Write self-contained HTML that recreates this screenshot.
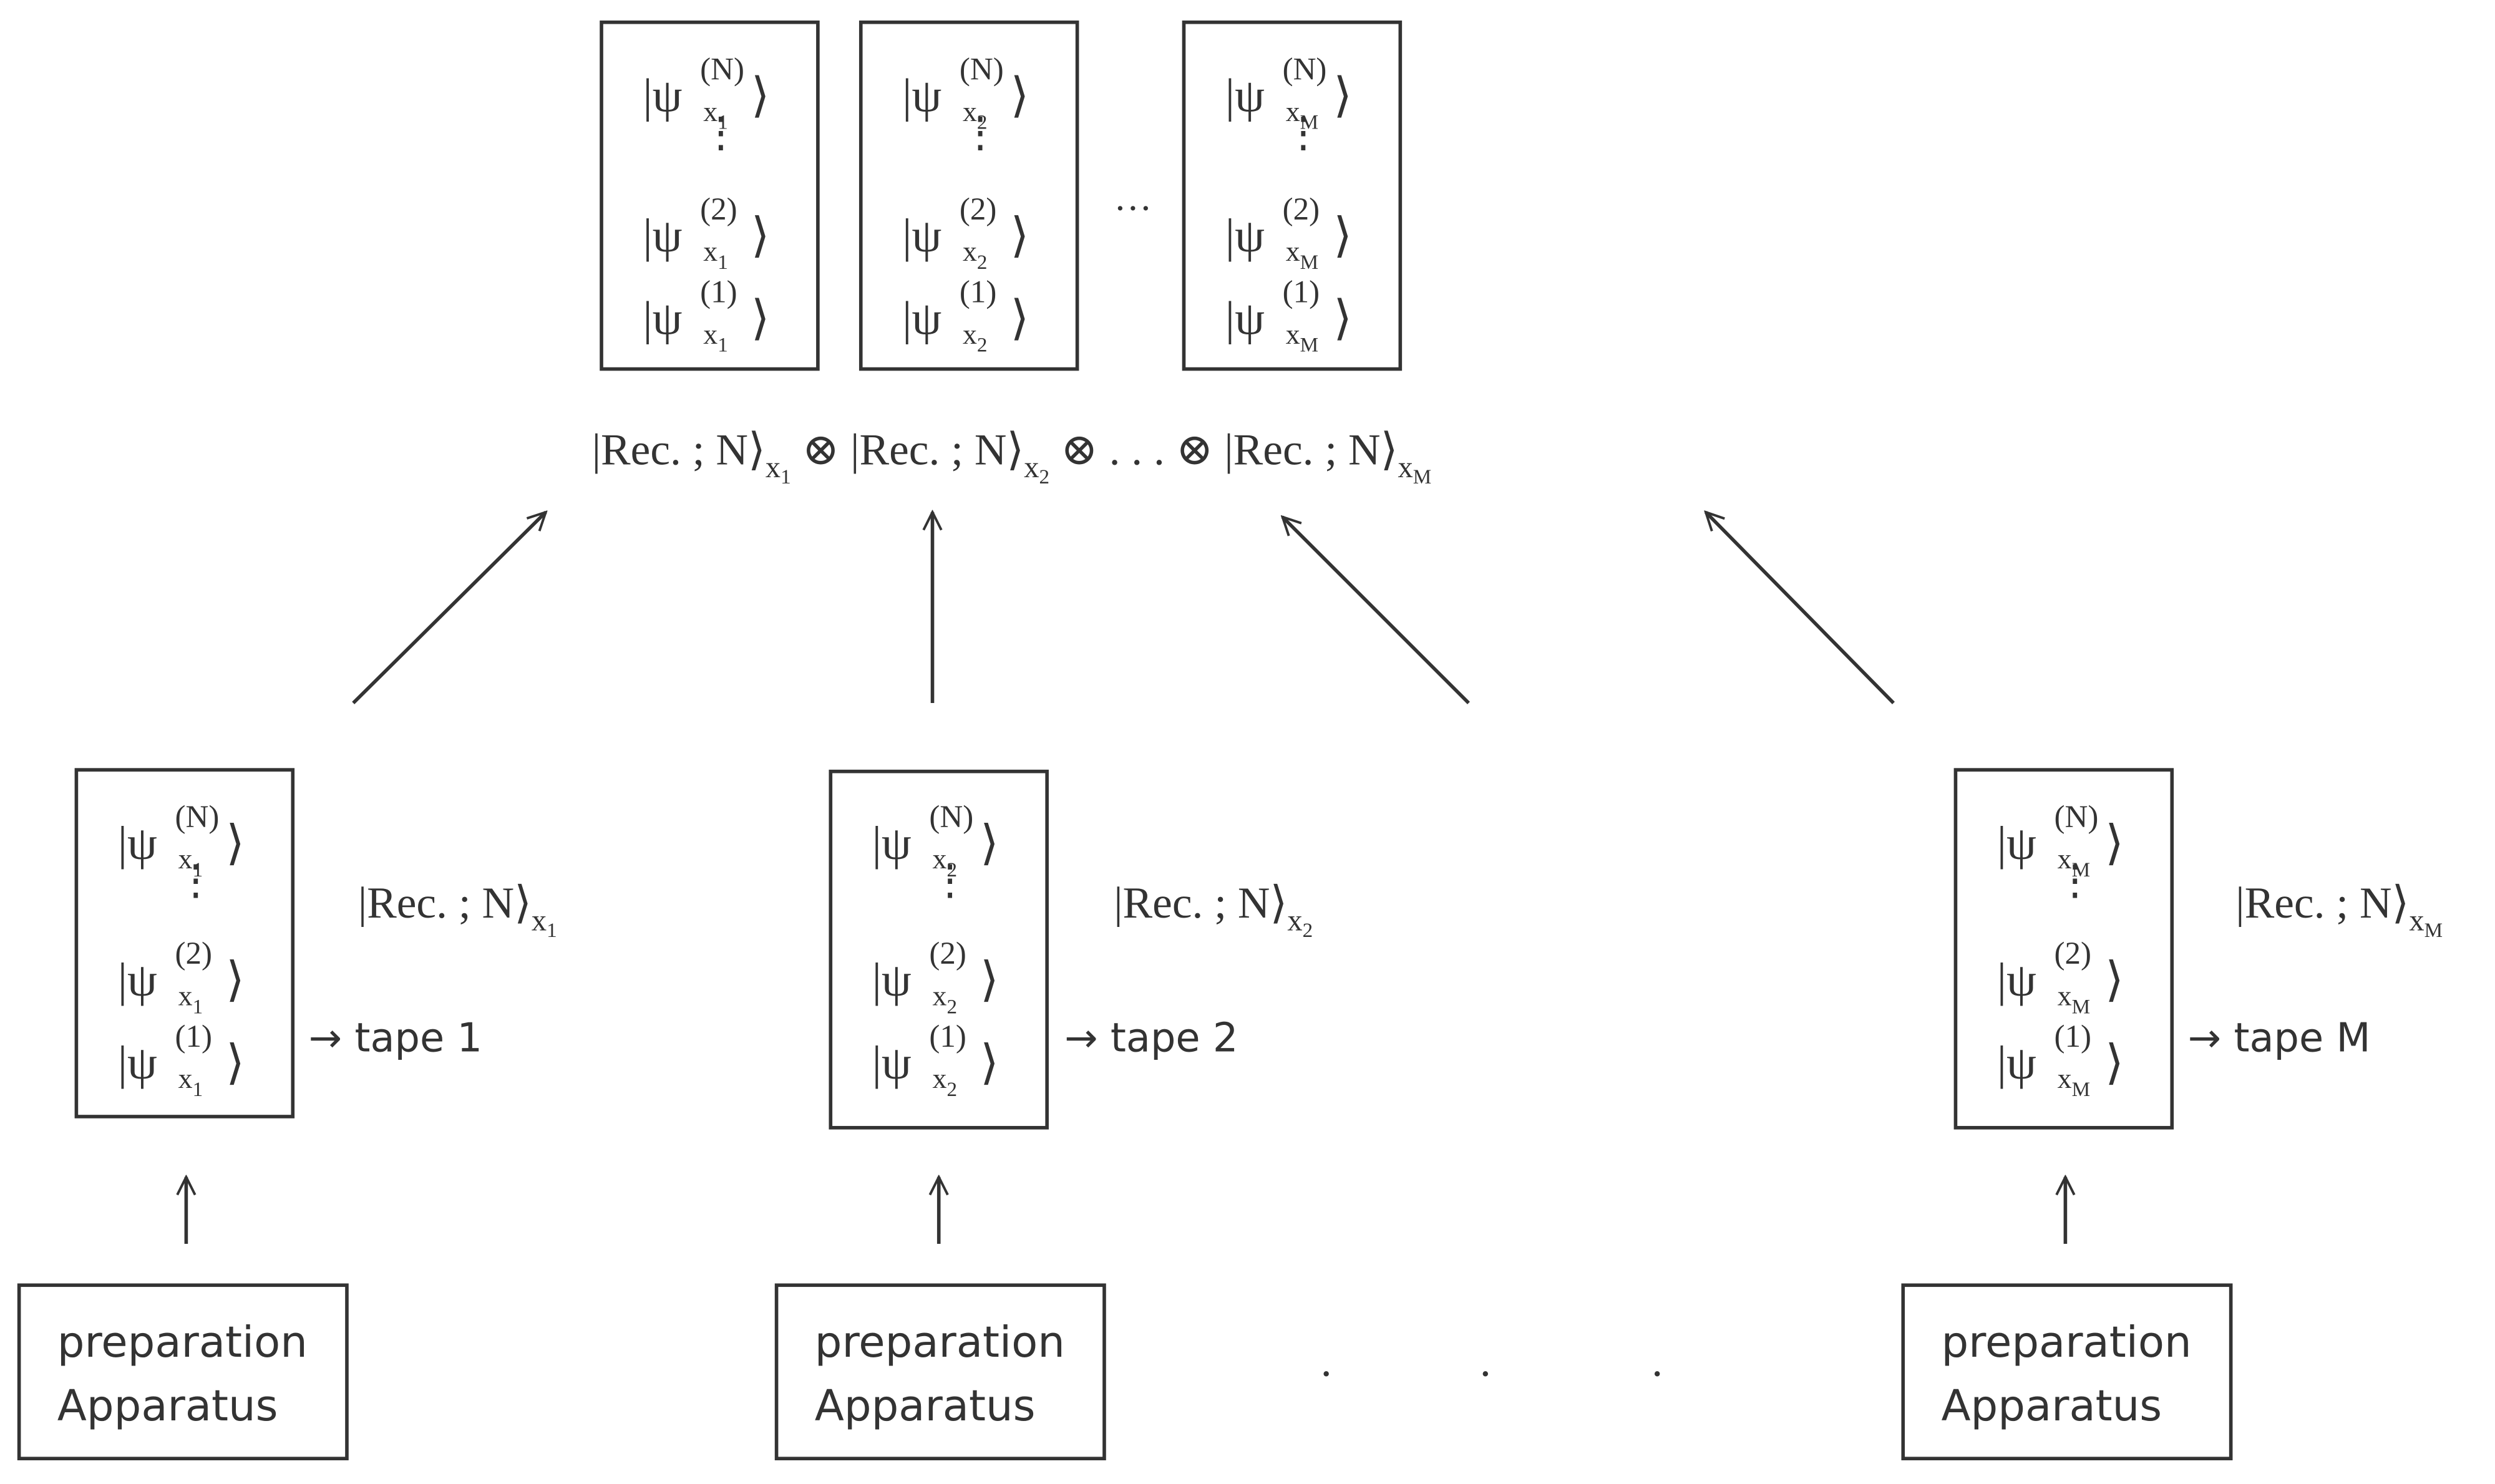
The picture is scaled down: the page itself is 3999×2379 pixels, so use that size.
<!DOCTYPE html>
<html><head><meta charset="utf-8"><style>
html,body{margin:0;padding:0;background:#fff;}
svg{display:block;}
text{fill:#333;font-family:"Liberation Serif","DejaVu Serif",serif;}
.s{font-family:"DejaVu Sans","Liberation Sans",sans-serif;}
</style></head><body>
<svg width="3999" height="2379" viewBox="0 0 1568 933" preserveAspectRatio="none" xmlns="http://www.w3.org/2000/svg">
<defs>
<marker id="ah" viewBox="0 0 20 20" refX="18" refY="10" markerWidth="14" markerHeight="14" markerUnits="userSpaceOnUse" orient="auto">
<path d="M2,2 L18,10 L2,18" fill="none" stroke="#333" stroke-width="2.2"/>
</marker>
<g id="k"><text x="0" y="0" font-size="30">|ψ</text><text x="68" y="0" font-size="30">⟩</text></g>
</defs>
<g fill="none" stroke="#333" stroke-width="2.2">
<rect x="378" y="14" width="136" height="218"/>
<rect x="541" y="14" width="136" height="218"/>
<rect x="744" y="14" width="136" height="218"/>
<rect x="48" y="484" width="136" height="218"/>
<rect x="522" y="485" width="136" height="224"/>
<rect x="1229" y="484" width="136" height="225"/>
<rect x="12" y="808" width="206" height="109"/>
<rect x="488" y="808" width="206" height="109"/>
<rect x="1196" y="808" width="206" height="109"/>
<line x1="222" y1="442" x2="343" y2="322" marker-end="url(#ah)"/>
<line x1="586" y1="442" x2="586" y2="322" marker-end="url(#ah)"/>
<line x1="923" y1="442" x2="806" y2="325" marker-end="url(#ah)"/>
<line x1="1190" y1="442" x2="1072" y2="322" marker-end="url(#ah)"/>
<line x1="117" y1="782" x2="117" y2="740" marker-end="url(#ah)"/>
<line x1="590" y1="782" x2="590" y2="740" marker-end="url(#ah)"/>
<line x1="1298" y1="782" x2="1298" y2="740" marker-end="url(#ah)"/>
</g>

<!-- ket macro expanded -->
<g id="kets">
<!-- top box 1 -->
<g transform="translate(404,70)"><use href="#k"/><text x="36" y="-20" font-size="20">(N)</text><text x="38" y="6" font-size="18">x<tspan font-size="13" dy="5">1</tspan></text></g>
<text x="440" y="92" font-size="26">⋮</text>
<g transform="translate(404,158)"><use href="#k"/><text x="36" y="-20" font-size="20">(2)</text><text x="38" y="6" font-size="18">x<tspan font-size="13" dy="5">1</tspan></text></g>
<g transform="translate(404,210)"><use href="#k"/><text x="36" y="-20" font-size="20">(1)</text><text x="38" y="6" font-size="18">x<tspan font-size="13" dy="5">1</tspan></text></g>
<!-- top box 2 -->
<g transform="translate(567,70)"><use href="#k"/><text x="36" y="-20" font-size="20">(N)</text><text x="38" y="6" font-size="18">x<tspan font-size="13" dy="5">2</tspan></text></g>
<text x="603" y="92" font-size="26">⋮</text>
<g transform="translate(567,158)"><use href="#k"/><text x="36" y="-20" font-size="20">(2)</text><text x="38" y="6" font-size="18">x<tspan font-size="13" dy="5">2</tspan></text></g>
<g transform="translate(567,210)"><use href="#k"/><text x="36" y="-20" font-size="20">(1)</text><text x="38" y="6" font-size="18">x<tspan font-size="13" dy="5">2</tspan></text></g>
<text x="700" y="132" font-size="24">…</text>
<!-- top box M -->
<g transform="translate(770,70)"><use href="#k"/><text x="36" y="-20" font-size="20">(N)</text><text x="38" y="6" font-size="18">x<tspan font-size="13" dy="5">M</tspan></text></g>
<text x="806" y="92" font-size="26">⋮</text>
<g transform="translate(770,158)"><use href="#k"/><text x="36" y="-20" font-size="20">(2)</text><text x="38" y="6" font-size="18">x<tspan font-size="13" dy="5">M</tspan></text></g>
<g transform="translate(770,210)"><use href="#k"/><text x="36" y="-20" font-size="20">(1)</text><text x="38" y="6" font-size="18">x<tspan font-size="13" dy="5">M</tspan></text></g>

<!-- bottom box 1 -->
<g transform="translate(74,540)"><use href="#k"/><text x="36" y="-20" font-size="20">(N)</text><text x="38" y="6" font-size="18">x<tspan font-size="13" dy="5">1</tspan></text></g>
<text x="110" y="562" font-size="26">⋮</text>
<g transform="translate(74,626)"><use href="#k"/><text x="36" y="-20" font-size="20">(2)</text><text x="38" y="6" font-size="18">x<tspan font-size="13" dy="5">1</tspan></text></g>
<g transform="translate(74,678)"><use href="#k"/><text x="36" y="-20" font-size="20">(1)</text><text x="38" y="6" font-size="18">x<tspan font-size="13" dy="5">1</tspan></text></g>
<!-- bottom box 2 -->
<g transform="translate(548,540)"><use href="#k"/><text x="36" y="-20" font-size="20">(N)</text><text x="38" y="6" font-size="18">x<tspan font-size="13" dy="5">2</tspan></text></g>
<text x="584" y="562" font-size="26">⋮</text>
<g transform="translate(548,626)"><use href="#k"/><text x="36" y="-20" font-size="20">(2)</text><text x="38" y="6" font-size="18">x<tspan font-size="13" dy="5">2</tspan></text></g>
<g transform="translate(548,678)"><use href="#k"/><text x="36" y="-20" font-size="20">(1)</text><text x="38" y="6" font-size="18">x<tspan font-size="13" dy="5">2</tspan></text></g>
<!-- bottom box M -->
<g transform="translate(1255,540)"><use href="#k"/><text x="36" y="-20" font-size="20">(N)</text><text x="38" y="6" font-size="18">x<tspan font-size="13" dy="5">M</tspan></text></g>
<text x="1291" y="562" font-size="26">⋮</text>
<g transform="translate(1255,626)"><use href="#k"/><text x="36" y="-20" font-size="20">(2)</text><text x="38" y="6" font-size="18">x<tspan font-size="13" dy="5">M</tspan></text></g>
<g transform="translate(1255,678)"><use href="#k"/><text x="36" y="-20" font-size="20">(1)</text><text x="38" y="6" font-size="18">x<tspan font-size="13" dy="5">M</tspan></text></g>
</g>

<!-- Rec line -->
<text x="372" y="292" font-size="28">|Rec. ; N⟩<tspan font-size="19" dy="8">x</tspan><tspan font-size="13" dy="4">1</tspan><tspan dy="-12" font-size="28">  ⊗ |Rec. ; N⟩</tspan><tspan font-size="19" dy="8">x</tspan><tspan font-size="13" dy="4">2</tspan><tspan dy="-12" font-size="28">  ⊗  .  .  .  ⊗ |Rec. ; N⟩</tspan><tspan font-size="19" dy="8">x</tspan><tspan font-size="13" dy="4">M</tspan></text>

<text x="225" y="577" font-size="28">|Rec. ; N⟩<tspan font-size="19" dy="8">x</tspan><tspan font-size="13" dy="4">1</tspan></text>
<text x="700" y="577" font-size="28">|Rec. ; N⟩<tspan font-size="19" dy="8">x</tspan><tspan font-size="13" dy="4">2</tspan></text>
<text x="1405" y="577" font-size="28">|Rec. ; N⟩<tspan font-size="19" dy="8">x</tspan><tspan font-size="13" dy="4">M</tspan></text>

<text class="s" x="194" y="661" font-size="25">→ tape 1</text>
<text class="s" x="669" y="661" font-size="25">→ tape 2</text>
<text class="s" x="1375" y="661" font-size="25">→ tape M</text>

<text class="s" x="36" y="853" font-size="27">preparation</text>
<text class="s" x="36" y="893" font-size="27">Apparatus</text>
<text class="s" x="512" y="853" font-size="27">preparation</text>
<text class="s" x="512" y="893" font-size="27">Apparatus</text>
<text class="s" x="1220" y="853" font-size="27">preparation</text>
<text class="s" x="1220" y="893" font-size="27">Apparatus</text>

<text x="830" y="865" font-size="28">.</text>
<text x="930" y="865" font-size="28">.</text>
<text x="1038" y="865" font-size="28">.</text>
</svg>
</body></html>
